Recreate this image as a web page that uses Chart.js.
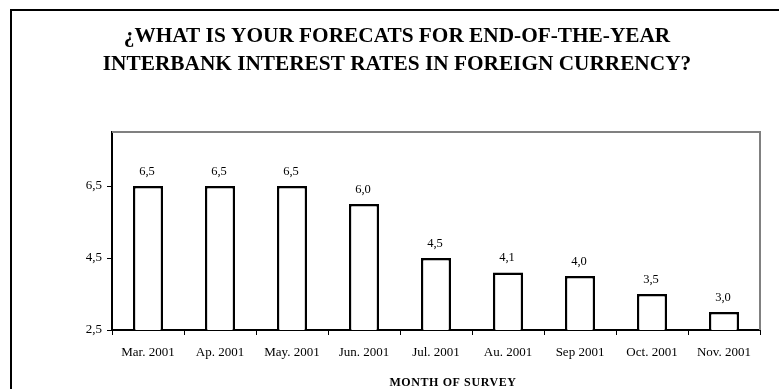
<!DOCTYPE html>
<html>
<head>
<meta charset="utf-8">
<script src="https://cdn.jsdelivr.net/npm/chart.js@4/dist/chart.umd.min.js"></script>
<style>
html,body{margin:0;padding:0;background:#fff;}
#wrap{width:779px;height:389px;position:relative;}
</style>
</head>
<body>
<div id="wrap"><canvas id="c" width="779" height="389"></canvas></div>
<script>
const categories = ["Mar. 2001","Ap. 2001","May. 2001","Jun. 2001","Jul. 2001","Au. 2001","Sep 2001","Oct. 2001","Nov. 2001"];
const forecastValues = [6.5, 6.5, 6.5, 6.0, 4.5, 4.1, 4.0, 3.5, 3.0];
const yTickValues = [2.5, 4.5, 6.5];
const titleLines = ["¿WHAT IS YOUR FORECATS FOR END-OF-THE-YEAR", "INTERBANK INTEREST RATES IN FOREIGN CURRENCY?"];
const xAxisTitle = "MONTH OF SURVEY";

const fmt = v => v.toFixed(1).replace('.', ',');
const SERIF = "'Liberation Serif', 'Times New Roman', serif";

const framePlugin = {
  id: 'frames',
  beforeDraw(chart) {
    const ctx = chart.ctx;
    ctx.save();
    ctx.fillStyle = '#fff';
    ctx.fillRect(0, 0, chart.width, chart.height);
    ctx.strokeStyle = '#000';
    ctx.lineWidth = 2;
    ctx.beginPath();
    ctx.moveTo(11, chart.height + 2);
    ctx.lineTo(11, 10);
    ctx.lineTo(chart.width + 2, 10);
    ctx.stroke();
    ctx.restore();
  },
  beforeDatasetsDraw(chart) {
    const {ctx, chartArea: a} = chart;
    ctx.save();
    ctx.strokeStyle = '#808080';
    ctx.lineWidth = 2;
    ctx.beginPath();
    ctx.moveTo(a.left, a.top);
    ctx.lineTo(a.right, a.top);
    ctx.lineTo(a.right, a.bottom);
    ctx.stroke();
    ctx.restore();
  },
  afterDraw(chart) {
    const ctx = chart.ctx;
    ctx.save();
    ctx.font = "bold 12px " + SERIF;
    ctx.fillStyle = '#000';
    ctx.textAlign = 'center';
    ctx.textBaseline = 'alphabetic';
    if (ctx.letterSpacing !== undefined) ctx.letterSpacing = '0.6px';
    ctx.fillText(xAxisTitle, 453, 386);
    ctx.restore();
  }
};

const labelPlugin = {
  id: 'valueLabels',
  afterDatasetsDraw(chart) {
    const ctx = chart.ctx;
    const meta = chart.getDatasetMeta(0);
    ctx.save();
    ctx.font = "12.5px " + SERIF;
    ctx.fillStyle = '#000';
    ctx.textAlign = 'center';
    ctx.textBaseline = 'alphabetic';
    meta.data.forEach((bar, i) => {
      ctx.fillText(fmt(forecastValues[i]), bar.x - 1, bar.y - 11);
    });
    ctx.restore();
  }
};

new Chart(document.getElementById('c'), {
  type: 'bar',
  data: {
    labels: categories,
    datasets: [{
      data: forecastValues,
      backgroundColor: '#ffffff',
      borderColor: '#000000',
      borderWidth: 2.5,
      barPercentage: 0.42,
      categoryPercentage: 1.0
    }]
  },
  options: {
    responsive: false,
    animation: false,
    layout: { padding: { left: 34, right: 19, top: 0, bottom: 0 } },
    plugins: {
      legend: { display: false },
      tooltip: { enabled: false },
      title: {
        display: true,
        text: titleLines,
        color: '#000',
        font: { family: SERIF, size: 21.3, weight: 'bold', lineHeight: 1.315 },
        padding: { top: 22, bottom: 54 }
      }
    },
    scales: {
      x: {
        afterFit(axis) { axis.height = 59; },
        grid: { display: true, drawOnChartArea: false, drawTicks: true, tickLength: 5, color: '#000', offset: true },
        border: { display: true, color: '#000', width: 2 },
        ticks: { color: '#000', font: { family: SERIF, size: 13 }, padding: 10, maxRotation: 0, autoSkip: false }
      },
      y: {
        min: 2.5,
        max: 8,
        afterBuildTicks(axis) { axis.ticks = yTickValues.map(v => ({ value: v })); },
        afterFit(axis) { axis.width = 78; },
        grid: { display: true, drawOnChartArea: false, drawTicks: true, tickLength: 5, color: '#000' },
        border: { display: true, color: '#000', width: 2 },
        ticks: { color: '#000', font: { family: SERIF, size: 13 }, padding: 5, callback: v => fmt(v) }
      }
    }
  },
  plugins: [framePlugin, labelPlugin]
});
</script>
</body>
</html>
